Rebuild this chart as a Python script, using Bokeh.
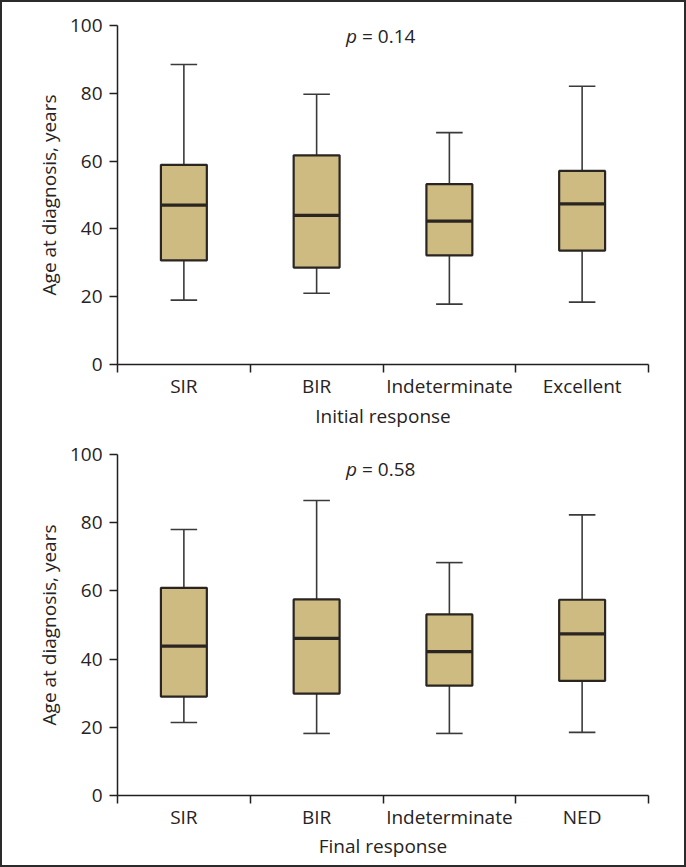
from bokeh.plotting import figure
from bokeh.models import FixedTicker, Label, Range1d, ColumnDataSource
from bokeh.layouts import column
from bokeh.embed import file_html
from bokeh.resources import INLINE

# ---------------- data ----------------
cats_top = ["SIR", "BIR", "Indeterminate", "Excellent"]
cats_bot = ["SIR", "BIR", "Indeterminate", "NED"]

top_min = [19.0, 21.0, 17.8, 18.4]
top_q1 = [30.7, 28.6, 32.2, 33.6]
top_med = [47.0, 44.0, 42.3, 47.4]
top_q3 = [58.9, 61.7, 53.2, 57.1]
top_max = [88.5, 79.7, 68.4, 82.1]

bot_min = [21.4, 18.2, 18.2, 18.5]
bot_q1 = [29.0, 29.9, 32.2, 33.6]
bot_med = [43.8, 46.1, 42.2, 47.4]
bot_q3 = [60.9, 57.5, 53.1, 57.4]
bot_max = [78.0, 86.5, 68.3, 82.3]

y_ticks = [0, 20, 40, 60, 80, 100]
p_top = "= 0.14"
p_bot = "= 0.58"
xlab_top = "Initial response"
xlab_bot = "Final response"
ylab = "Age at diagnosis, years"

FONT = "Open Sans"
FS = "19px"
TXT = "#262324"
AX = "#231f20"
FILL = "#cdbb82"
EDGE = "#2a2520"
WHISK = "#3a3a3a"
BOX_HALF = 0.173
CAP_HALF = 0.1


def panel(cats, mn, q1, med, q3, mx, ptxt, ptxt_y, xlab, height, mtop, mbottom, lab_standoff):
    n = len(cats)
    x = [i + 0.5 for i in range(n)]
    src = ColumnDataSource(dict(
        x=x, mn=mn, q1=q1, med=med, q3=q3, mx=mx,
        bl=[v - BOX_HALF for v in x], br=[v + BOX_HALF for v in x],
        cl=[v - CAP_HALF for v in x], cr=[v + CAP_HALF for v in x],
    ))
    p = figure(width=682, height=height, x_range=Range1d(0, n), y_range=Range1d(0, 100),
               output_backend="svg", toolbar_location=None,
               min_border_left=115, min_border_right=36,
               min_border_top=mtop, min_border_bottom=mbottom)
    p.outline_line_color = None
    p.xgrid.visible = False
    p.ygrid.visible = False
    p.background_fill_color = "white"
    p.border_fill_color = "white"

    # whiskers
    p.segment(x0="x", y0="q3", x1="x", y1="mx", source=src, line_color=WHISK, line_width=1.6)
    p.segment(x0="x", y0="q1", x1="x", y1="mn", source=src, line_color=WHISK, line_width=1.6)
    p.segment(x0="cl", y0="mx", x1="cr", y1="mx", source=src, line_color=WHISK, line_width=1.6)
    p.segment(x0="cl", y0="mn", x1="cr", y1="mn", source=src, line_color=WHISK, line_width=1.6)
    # boxes
    p.quad(left="bl", right="br", bottom="q1", top="q3", source=src,
           fill_color=FILL, line_color=EDGE, line_width=2.2)
    # medians
    p.segment(x0="bl", y0="med", x1="br", y1="med", source=src, line_color=EDGE, line_width=3.2)

    # x axis
    xa = p.xaxis[0]
    xa.ticker = FixedTicker(ticks=x, minor_ticks=list(range(n + 1)))
    xa.major_label_overrides = {v: c for v, c in zip(x, cats)}
    xa.major_tick_out = 0
    xa.major_tick_in = 0
    xa.minor_tick_out = 8
    xa.minor_tick_in = 0
    xa.minor_tick_line_color = AX
    xa.minor_tick_line_width = 1.5
    xa.axis_line_color = AX
    xa.axis_line_width = 1.5
    xa.major_label_standoff = 0
    xa.major_label_text_font = FONT
    xa.major_label_text_font_size = FS
    xa.major_label_text_color = TXT
    xa.axis_label = xlab
    xa.axis_label_text_font = FONT
    xa.axis_label_text_font_size = FS
    xa.axis_label_text_font_style = "normal"
    xa.axis_label_text_color = TXT
    xa.axis_label_standoff = lab_standoff

    # y axis
    ya = p.yaxis[0]
    ya.ticker = FixedTicker(ticks=y_ticks, minor_ticks=[])
    ya.major_tick_out = 8
    ya.major_tick_in = 0
    ya.major_tick_line_color = AX
    ya.major_tick_line_width = 1.5
    ya.axis_line_color = AX
    ya.axis_line_width = 1.5
    ya.major_label_standoff = 7
    ya.major_label_text_font = FONT
    ya.major_label_text_font_size = FS
    ya.major_label_text_color = TXT
    ya.axis_label = ylab
    ya.axis_label_text_font = FONT
    ya.axis_label_text_font_size = FS
    ya.axis_label_text_font_style = "normal"
    ya.axis_label_text_color = TXT
    ya.axis_label_standoff = 5

    # p value
    p.add_layout(Label(x=n / 2, y=ptxt_y, x_offset=-37, text="p", text_font=FONT,
                       text_font_style="italic", text_font_size=FS, text_color=TXT,
                       text_align="left", text_baseline="middle"))
    p.add_layout(Label(x=n / 2, y=ptxt_y, x_offset=-21, text=ptxt, text_font=FONT,
                       text_font_size=FS, text_color=TXT,
                       text_align="left", text_baseline="middle"))
    return p


p1 = panel(cats_top, top_min, top_q1, top_med, top_q3, top_max, p_top, 96.8, xlab_top,
           438, 23, 76, 1)
p2 = panel(cats_bot, bot_min, bot_q1, bot_med, bot_q3, bot_max, p_bot, 95.8, xlab_bot,
           425, 14, 70, 0)

layout = column(p1, p2, styles={"border": "2px solid #2b2b2b", "background-color": "white"})

open("out.html", "w").write(file_html(layout, INLINE))
